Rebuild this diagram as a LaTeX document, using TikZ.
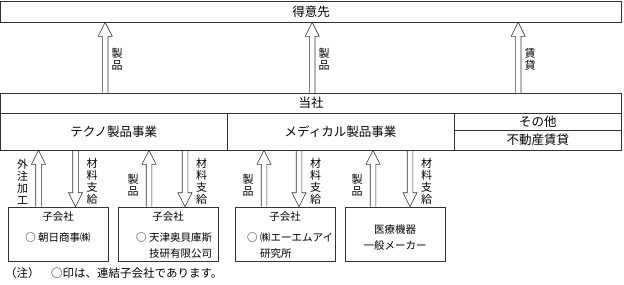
\documentclass[tikz,border=0pt]{standalone}
\usepackage{fontspec}
\setmainfont{Noto Sans CJK JP}
\usepackage{tikz}
\usetikzlibrary{positioning,calc}
\newcommand{\hollowarrow}[2]{% tail, tip
  \coordinate (ha) at ($(#2)!14pt!(#1)$);
  \draw[line width=0.6pt,black!80] ($(#1)!2.8pt!90:(#2)$) -- ($(ha)!2.8pt!-90:(#1)$)
    -- ($(ha)!7pt!-90:(#1)$) -- (#2) -- ($(ha)!7pt!90:(#1)$)
    -- ($(ha)!2.8pt!90:(#1)$) -- ($(#1)!2.8pt!-90:(#2)$);
}
\tikzset{
  box/.style={draw=black!80,line width=0.6pt,inner sep=0pt,font=\fontsize{12.5}{15}\selectfont},
  sub/.style={draw=black!80,line width=0.6pt,inner sep=0pt,minimum width=100pt,minimum height=54pt},
  subtxt/.style={inner sep=0pt,font=\fontsize{10.5}{12}\selectfont},
  vlab/.style={align=center,inner sep=0pt,font=\fontsize{11}{12}\selectfont},
}

\begin{document}
\begin{tikzpicture}[x=1pt,y=-1pt]
\useasboundingbox (0,0) rectangle (624,284);

% company rows
\node[box,minimum width=621pt,minimum height=21pt] (tokui) at (311,11.5) {得意先};
\node[box,minimum width=621pt,minimum height=20pt] (tosha) at (311,103) {当社};
\node[box,minimum width=226.5pt,minimum height=37pt] (teku) at (113.75,131.5) {テクノ製品事業};
\node[box,minimum width=227pt,minimum height=37pt] (medi) at (340.5,131.5) {メディカル製品事業};
\node[box,minimum width=167.5pt,minimum height=17pt] (sonota) at (537.75,121.5) {その他};
\node[box,minimum width=167.5pt,minimum height=20pt] (fudo) at (537.75,140) {不動産賃貸};

% arrows to customers
\foreach \x/\n/\t in {105/a/{製\\品}, 312/b/{製\\品}, 518/c/{賃\\貸}} {
  \coordinate (top-\n) at ([xshift=\x pt]tosha.north west);
  \coordinate (tip-\n) at (top-\n |- tokui.south);
  \hollowarrow{top-\n}{tip-\n}
  \node[vlab] (lab-\n) at ($(top-\n)+(12,-33)$) {\t};
}

% group companies
\node[sub] (b1) at (58,234) {};
\node[sub] (b2) at (168,234) {};
\node[sub] (b3) at (285,234) {};
\node[sub] (b4) at (395,234) {};
\foreach \b in {b1,b2,b3} {
  \node[subtxt,below=4.5pt of \b.north] (\b-h) {子会社};
}
\node[subtxt] (b1-l) at ($(b1.north)+(0,31)$) {○ 朝日商事㈱};
\node[subtxt,anchor=west] (b2-l) at ($(b2.north)+(-32,31)$) {○ 天津奥貝庫斯};
\node[subtxt,anchor=west] (b2-m) at ($(b2-l.west)+(0,16)$) {\hphantom{○ }技研有限公司};
\node[subtxt,anchor=west] (b3-l) at ($(b3.north)+(-38,31)$) {○ ㈱エーエムアイ};
\node[subtxt,anchor=west] (b3-m) at ($(b3-l.west)+(0,16)$) {\hphantom{○ }研究所};
\node[subtxt] (b4-l) at ($(b4.north)+(0,23)$) {医療機器};
\node[subtxt] (b4-m) at ($(b4.north)+(0,39)$) {一般メーカー};

% supply arrows
\foreach \b/\r/\du/\dd/\t/\h in {b1/teku/-19.5/17.5/{外\\注\\加\\工}/25, b2/teku/-19/17/{製\\品}/21,
                             b3/medi/-21/14/{製\\品}/21, b4/medi/-22/15/{製\\品}/21} {
  \coordinate (\b-u) at ([xshift=\du pt]\b.north);
  \coordinate (\b-ut) at (\b-u |- \r.south);
  \hollowarrow{\b-u}{\b-ut}
  \coordinate (\b-d) at ([xshift=\dd pt]\b.north);
  \coordinate (\b-dt) at (\b-d |- \r.south);
  \hollowarrow{\b-dt}{\b-d}
  \node[vlab] (\b-ul) at ($(\b-u)+(-16,-\h)$) {\t};
  \node[vlab] (\b-dl) at ($(\b-d)+(16.5,-25)$) {材\\料\\支\\給};
}

\node[anchor=west,inner sep=0pt,font=\fontsize{11.5}{13}\selectfont] (note) at (5,273)
  {（注）　○印は、連結子会社であります。};

\end{tikzpicture}
\end{document}
